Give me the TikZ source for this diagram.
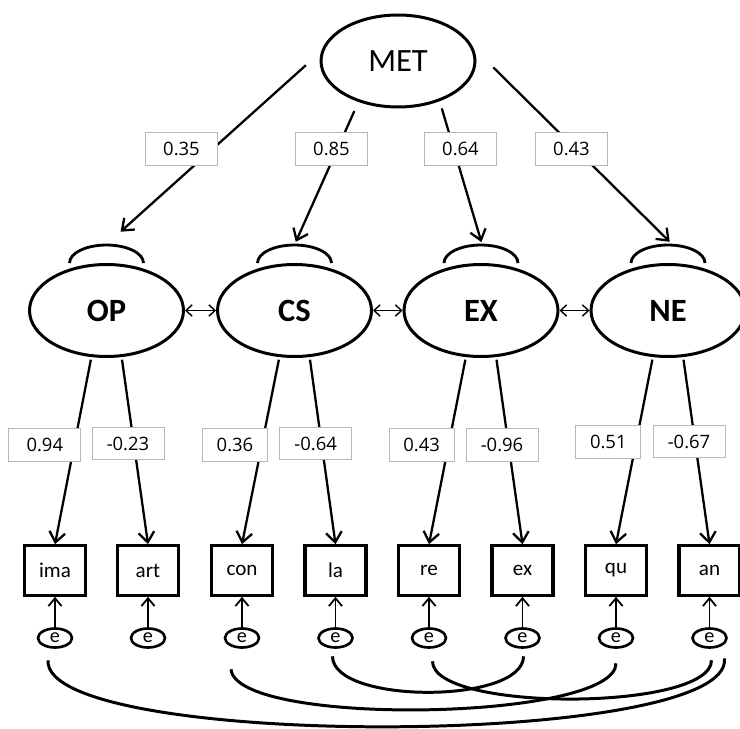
\documentclass[tikz,border=0pt]{standalone}
\usepackage{fontspec}
\setmainfont{Carlito}
\newfontfamily\coeffont{Open Sans}
\usetikzlibrary{arrows.meta, positioning, shapes.geometric}
\tikzset{
  every picture/.style={line width=1.2pt, x=0.02cm, y=0.02cm},
  latent/.style={draw, ellipse, line width=1.7pt, minimum width=3.08cm, minimum height=1.84cm, font=\fontsize{18.5}{20}\selectfont\bfseries},
  factor/.style={latent, font=\fontsize{18.5}{20}\selectfont},
  obs/.style={draw, rectangle, line width=1.8pt, minimum width=1.22cm, minimum height=0.99cm, font=\fontsize{12}{14}\selectfont},
  err/.style={draw, ellipse, line width=1.5pt, inner sep=0pt, minimum width=0.68cm, minimum height=0.38cm, font=\fontsize{11.5}{13}\selectfont},
  coef/.style={draw=black!28, line width=0.5pt, fill=white, minimum width=#1, minimum height=0.65cm, font=\coeffont\fontsize{10.5}{12}\selectfont},
  coef/.default=1.44cm,
  arrow/.style={-{Straight Barb[length=5.8pt, width=9pt]}, line width=1.3pt},
  errarrow/.style={-{Straight Barb[length=4.5pt, width=7.5pt]}, line width=1pt},
  cov/.style={{Straight Barb[length=3.5pt, width=6.5pt]}-{Straight Barb[length=3.5pt, width=6.5pt]}, line width=0.8pt},
  varloop/.style={line width=1.6pt},
  errcov/.style={line width=1.7pt},
}

\begin{document}
\begin{tikzpicture}
  \useasboundingbox (0,0) rectangle (740,-729);
  % factors
  \node[factor] (MET) at (398,-61) {MET};
  \node[latent] (OP) at (106.5,-310.5) {OP};
  \node[latent] (CS) at (294.5,-310.5) {CS};
  \node[latent] (EX) at (481,-310.5) {EX};
  \node[latent] (NE) at (668,-310.5) {NE};
  % indicators and their errors
  \foreach \obsname/\x in {ima/55, art/148, con/242, la/335.5, re/429, ex/522.5, qu/616, an/709.5} {
    \node[obs] (\obsname) at (\x,-570.5) {\obsname};
    \node[err] (e-\obsname) at (\x,-638) {e};
    \draw[errarrow] (e-\obsname) -- (\obsname);
  }
  % second order loadings
  \draw[arrow, shorten <=0.41cm, shorten >=1cm] (MET.173.6) -- (OP.117.6);
  \draw[arrow, shorten <=0.2cm, shorten >=0.47cm] (MET.226.5) -- (CS.100.7);
  \draw[arrow, shorten <=0.15cm, shorten >=0.44cm] (MET.316.5) -- (EX.82.6);
  \draw[arrow, shorten <=0.56cm, shorten >=0.68cm] (MET.10) -- (NE.60.5);
  % variances
  \foreach \f in {OP, CS, EX, NE}
    \draw[varloop] ([shift={(-37,0)}]\f.north) arc[start angle=180, end angle=0, x radius=0.74cm, y radius=0.36cm];
  % correlations
  \draw[cov] (OP) -- (CS);
  \draw[cov] (CS) -- (EX);
  \draw[cov] (EX) -- (NE);
  % loadings
  \draw[arrow, shorten <=1.5pt] (OP.252) -- (ima.north);
  \draw[arrow, shorten <=1.5pt] (OP.288) -- (art.north);
  \draw[arrow, shorten <=1.5pt] (CS.252) -- (con.north);
  \draw[arrow, shorten <=1.5pt] (CS.288) -- (la.north);
  \draw[arrow, shorten <=1.5pt] (EX.252) -- (re.north);
  \draw[arrow, shorten <=1.5pt] (EX.288) -- (ex.north);
  \draw[arrow, shorten <=1.5pt] (NE.252) -- (qu.north);
  \draw[arrow, shorten <=1.5pt] (NE.288) -- (an.north);
  % error covariances
  \draw[errcov] ([shift={(-7,-11.5)}]e-ima.south) .. controls +(-5,-90) and +(10,-90) .. ([shift={(15,-9.5)}]e-an.south);
  \draw[errcov] ([shift={(-11,-20.5)}]e-con.south) .. controls +(5,-58) and +(0,-58) .. ([shift={(0,-14.5)}]e-qu.south);
  \draw[errcov] ([shift={(-3,-7.5)}]e-la.south) .. controls +(0,-48) and +(0,-48) .. ([shift={(1,-7.5)}]e-ex.south);
  \draw[errcov] ([shift={(3.5,-12.5)}]e-re.south) .. controls +(0,-51) and +(0,-51) .. ([shift={(2,-11.5)}]e-an.south);
  % coefficients
  \node[coef] (c-op) at (181.5,-149) {0.35};
  \node[coef] (c-cs) at (331.5,-149) {0.85};
  \node[coef] (c-ex) at (460.5,-149) {0.64};
  \node[coef] (c-ne) at (571.5,-149) {0.43};
  \node[coef] (c-ima) at (44.8,-444.7) {0.94};
  \node[coef] (c-art) at (128,-443.5) {-0.23};
  \node[coef=1.3cm] (c-con) at (235,-444.7) {0.36};
  \node[coef] (c-la) at (315.6,-443.5) {-0.64};
  \node[coef=1.3cm] (c-re) at (421.7,-444.7) {0.43};
  \node[coef] (c-exv) at (502,-444.7) {-0.96};
  \node[coef=1.3cm] (c-qu) at (608.3,-441.7) {0.51};
  \node[coef] (c-an) at (689,-441.5) {-0.67};
\end{tikzpicture}
\end{document}
